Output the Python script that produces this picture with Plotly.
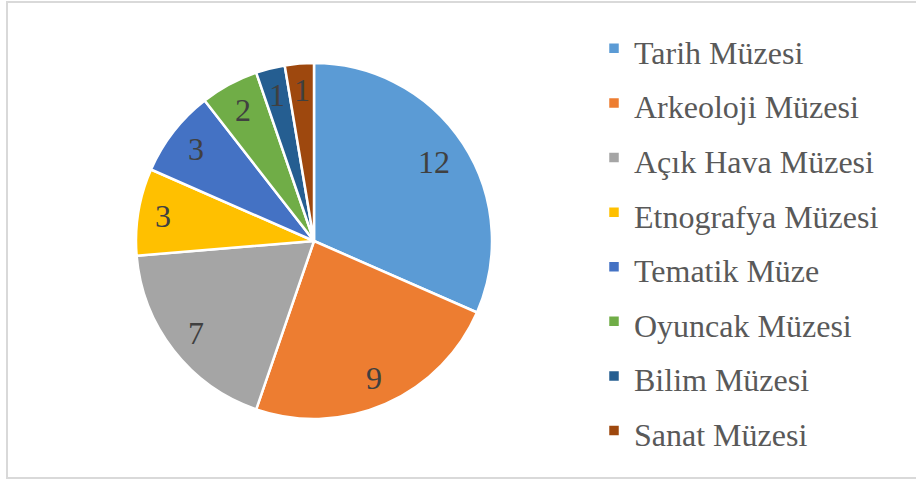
import math
import plotly.graph_objects as go

categories = ["Tarih Müzesi", "Arkeoloji Müzesi", "Açık Hava Müzesi", "Etnografya Müzesi",
              "Tematik Müze", "Oyuncak Müzesi", "Bilim Müzesi", "Sanat Müzesi"]
values = [12, 9, 7, 3, 3, 2, 1, 1]
colors = ["#5B9BD5", "#ED7D31", "#A5A5A5", "#FFC000", "#4472C4", "#70AD47", "#255E91", "#9E480E"]

W, H = 916, 482
cx, cy, r = 314, 241, 178
FONT = "Liberation Serif, Times New Roman, serif"
LABEL_SIZE = 32

legend_labels = ['<span style="font-size:32px">%s</span>' % c for c in categories]

fig = go.Figure(go.Pie(
    labels=legend_labels,
    values=values,
    sort=False,
    direction="clockwise",
    rotation=0,
    marker=dict(colors=colors, line=dict(color="white", width=2.5)),
    textinfo="none",
    domain=dict(x=[(cx - r) / W, (cx + r) / W], y=[1 - (cy + r) / H, 1 - (cy - r) / H]),
    hoverinfo="skip",
))

# value labels: text box kept just inside the rim along each slice's mid-angle
total = sum(values)
outer = 0.915 * r
annotations = []
cum = 0
for v in values:
    mid = (cum + v / 2) / total * 2 * math.pi
    cum += v
    s, c = math.sin(mid), math.cos(mid)
    half_w = 0.25 * LABEL_SIZE * len(str(v))
    half_h = 0.34 * LABEL_SIZE
    rr = outer - (half_w * abs(s) + half_h * abs(c))
    px = cx + rr * s
    py = cy - rr * c
    annotations.append(dict(
        x=px / W, y=1 - py / H, xref="paper", yref="paper",
        text=str(v), showarrow=False, xanchor="center", yanchor="middle",
        font=dict(family=FONT, size=LABEL_SIZE, color="#404040"),
    ))

fig.update_layout(
    width=W, height=H,
    margin=dict(l=0, r=0, t=0, b=0),
    paper_bgcolor="white",
    showlegend=True,
    legend=dict(
        x=594 / W, y=1 - 16 / H, xanchor="left", yanchor="top",
        font=dict(family=FONT, size=39.7, color="#595959"),
        itemwidth=30,
        bgcolor="rgba(0,0,0,0)",
    ),
    annotations=annotations,
    shapes=[dict(type="rect", xref="paper", yref="paper",
                 x0=7 / W, x1=1.01, y0=1 - 478 / H, y1=1 - 2 / H,
                 line=dict(color="#D9D9D9", width=2))],
)

fig.write_html("out.html")
